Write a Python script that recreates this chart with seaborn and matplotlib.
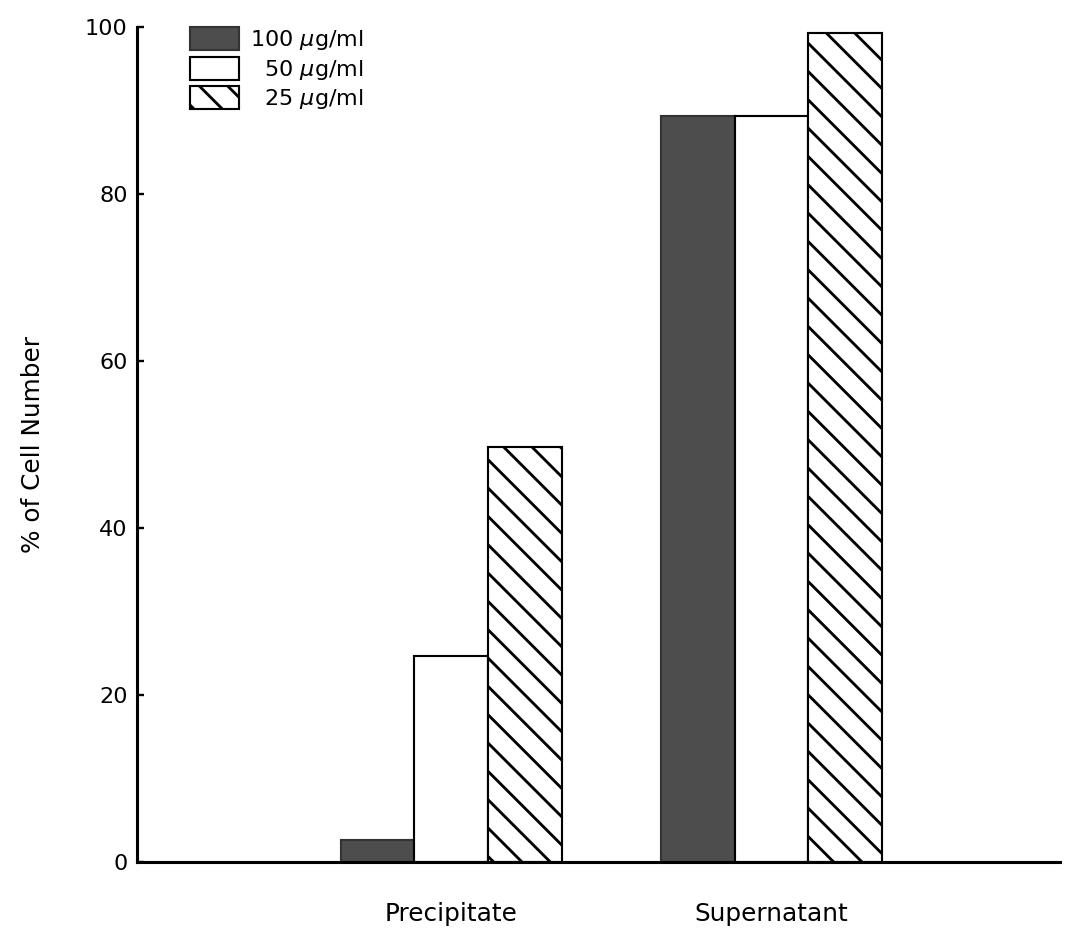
import matplotlib
matplotlib.use('Agg')
import matplotlib.pyplot as plt
import matplotlib.patches as mpatches
import seaborn as sns
import pandas as pd

categories = ['Precipitate', 'Supernatant']
concentrations = ['100 $\\mu$g/ml', '\u200750 $\\mu$g/ml', '\u200725 $\\mu$g/ml']
vals_100 = [2.6, 89.3]
vals_50 = [24.7, 89.3]
vals_25 = [49.7, 99.3]
yticks = [0, 20, 40, 60, 80, 100]

rows = []
for conc, vals in zip(concentrations, [vals_100, vals_50, vals_25]):
    for cat, v in zip(categories, vals):
        rows.append({'fraction': cat, 'conc': conc, 'value': v})
df = pd.DataFrame(rows)

DPI = 170
sns.set_style('white')
plt.rcParams['font.family'] = ['DejaVu Sans']
plt.rcParams['hatch.linewidth'] = 1.2
plt.rcParams['mathtext.fontset'] = 'dejavusans'
plt.rcParams['text.color'] = 'black'
plt.rcParams['axes.labelcolor'] = 'black'
plt.rcParams['xtick.color'] = 'black'
plt.rcParams['ytick.color'] = 'black'

fig = plt.figure(figsize=(1073 / DPI, 937 / DPI), dpi=DPI)
ax = fig.add_axes([0.1277, 0.0800, 0.8602, 0.8912])

dark = '#4d4d4d'
colors = [dark, 'white', 'white']
sns.barplot(data=df, x='fraction', y='value', hue='conc', hue_order=concentrations,
            order=categories, palette=colors, width=0.69, edgecolor='black',
            linewidth=0.9, ax=ax, legend=False, saturation=1)

for i, cont in enumerate(ax.containers):
    for p in cont.patches:
        if i == 0:
            p.set_edgecolor('#333333')
        if i == 2:
            p.set_hatch('\\\\')
            p.set_facecolor('white')

ax.set_xlim(-0.98, 1.90)
ax.set_ylim(0, 100)
ax.set_yticks(yticks)
ax.set_yticklabels([str(t) for t in yticks])
ax.set_xlabel('')
ax.set_ylabel('% of Cell Number', fontsize=10.5, labelpad=17)

for s in ['top', 'right']:
    ax.spines[s].set_visible(False)
for s in ['left', 'bottom']:
    ax.spines[s].set_linewidth(1.3)
    ax.spines[s].set_color('black')

ax.tick_params(axis='y', direction='in', length=3, width=1.0, pad=4, labelsize=9.5, left=True)
ax.tick_params(axis='x', length=0, pad=17, labelsize=10.5)

handles = [
    mpatches.Patch(facecolor=dark, edgecolor='#333333', linewidth=0.9),
    mpatches.Patch(facecolor='white', edgecolor='black', linewidth=0.9),
    mpatches.Patch(facecolor='white', edgecolor='black', linewidth=0.9, hatch='\\\\'),
]
ax.legend(handles, concentrations, loc='upper left', bbox_to_anchor=(0.057, 1.0),
          frameon=False, borderpad=0, borderaxespad=0, fontsize=9.5,
          handlelength=2.2, handleheight=1.2, handletextpad=0.5, labelspacing=0.2)

fig.savefig('out.png', dpi=DPI)
